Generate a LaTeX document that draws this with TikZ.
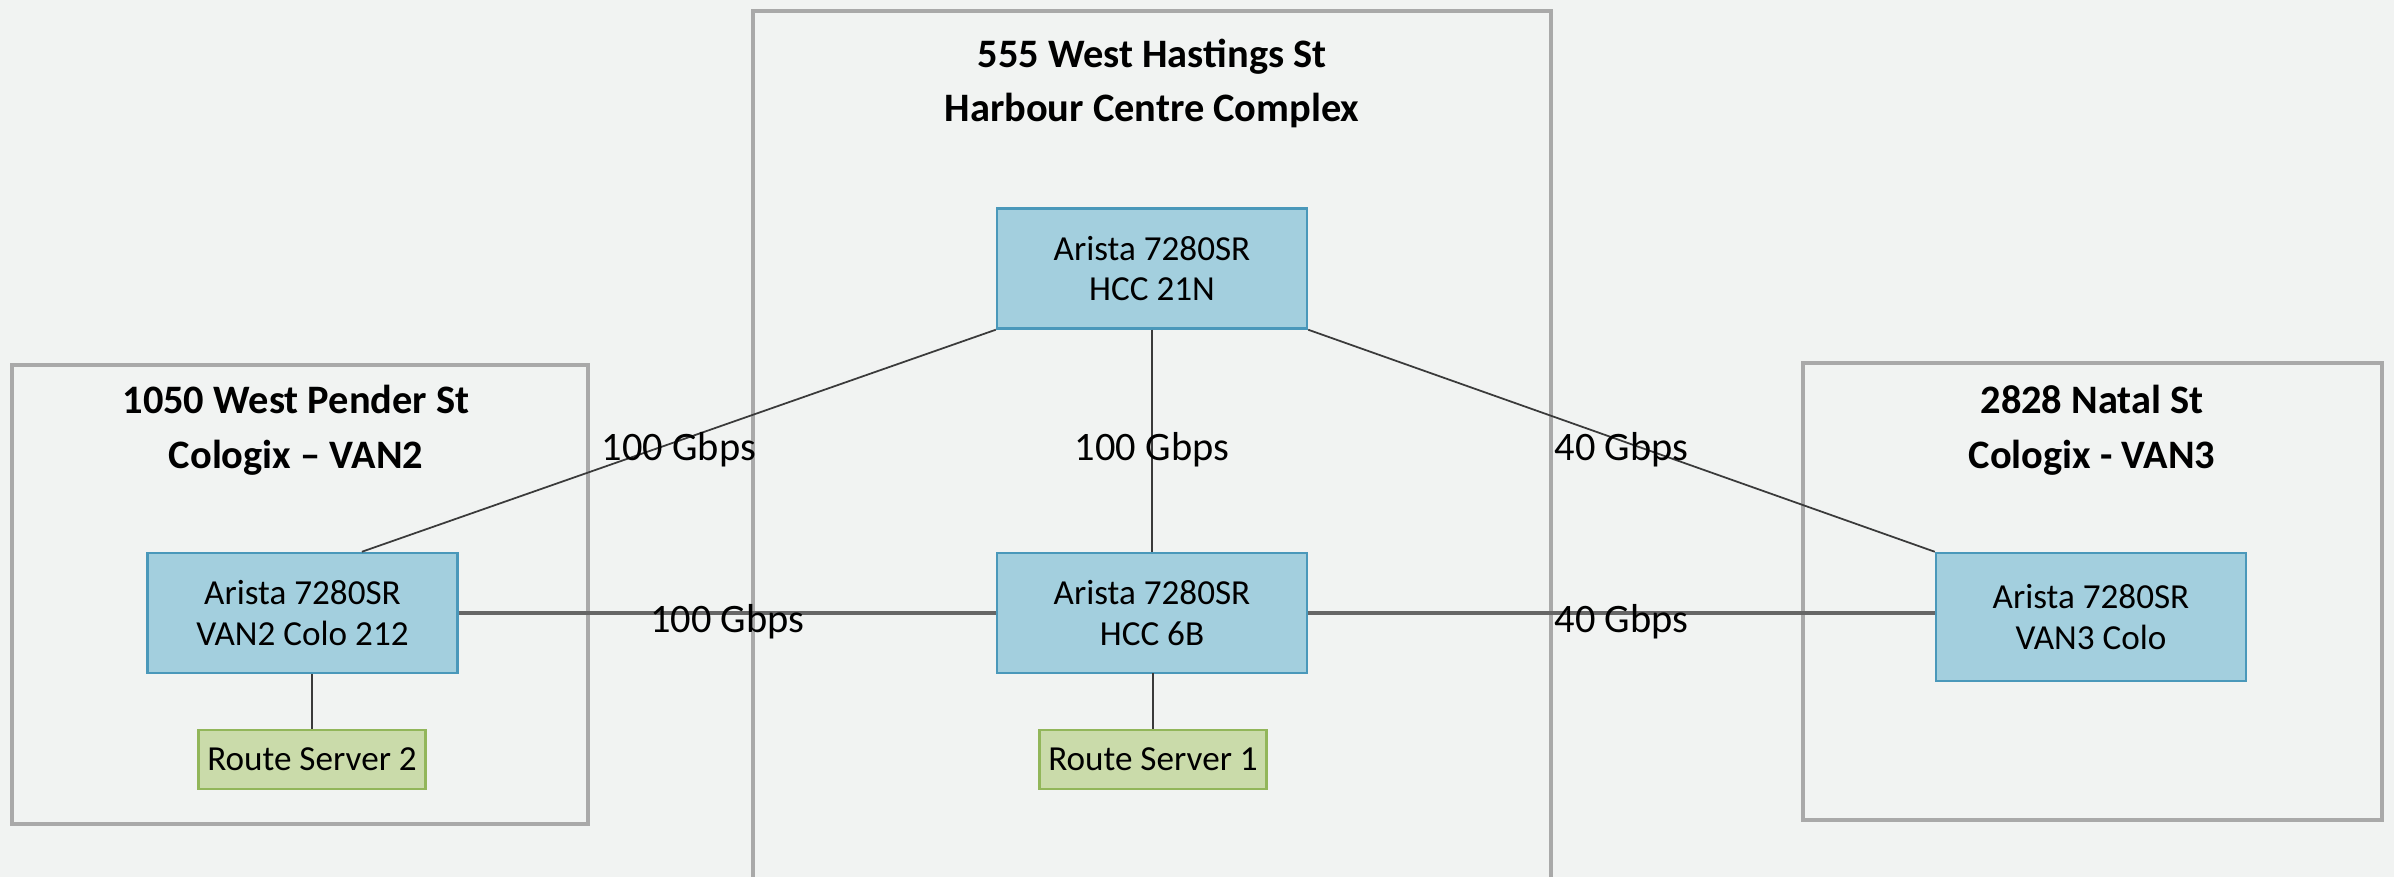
\documentclass[tikz,border=0pt]{standalone}
\usepackage{fontspec}
\setmainfont{Carlito}
\usetikzlibrary{calc}
\definecolor{bgc}{HTML}{F1F3F2}
\definecolor{bldgc}{HTML}{A9A9A9}
\definecolor{bluef}{HTML}{A3CFDE}
\definecolor{blued}{HTML}{4A98BA}
\definecolor{greenf}{HTML}{CADBAA}
\definecolor{greend}{HTML}{92B65A}
\definecolor{linec}{HTML}{3A3A3A}
\tikzset{
  bldg/.style={draw=bldgc, line width=1.4pt, fill=bgc, inner sep=0pt},
  title/.style={font=\fontsize{11.5}{15.6}\selectfont\bfseries, align=center, inner sep=0pt},
  switchbox/.style={draw=blued, line width=0.7pt, fill=bluef, inner sep=0pt,
    minimum width=31mm, minimum height=12mm, align=center,
    font=\fontsize{10}{11.6}\selectfont},
  rsbox/.style={draw=greend, line width=0.8pt, fill=greenf, inner sep=0pt,
    minimum width=22.7mm, minimum height=5.9mm, font=\fontsize{10}{11.6}\selectfont},
  link/.style={draw=linec, line width=0.5pt},
  hlink/.style={draw=gray!80!black, line width=1.1pt},
  lbl/.style={font=\fontsize{11.5}{13}\selectfont, inner sep=0pt, yshift=-0.9mm}
}
\begin{document}
\begin{tikzpicture}[x=0.1mm, y=-0.1mm]
\useasboundingbox (0,0) rectangle (2394,877);
\fill[bgc] (0,0) rectangle (2394,877);
\clip (0,0) rectangle (2394,877);
% buildings
\node[bldg, minimum width=57.6mm, minimum height=45.9mm] (b1) at (300,594.5) {};
\node[bldg, minimum width=79.8mm, minimum height=88.9mm] (b2) at (1152,455.5) {};
\node[bldg, minimum width=57.9mm, minimum height=45.7mm] (b3) at (2092.5,591.5) {};
\node[title] (t1) at (296,430.5) {1050 West Pender St\\Cologix – VAN2};
\node[title] (t2) at (1152,83.5) {555 West Hastings St\\Harbour Centre Complex};
\node[title] (t3) at (2092,430.5) {2828 Natal St\\Cologix - VAN3};
% devices
\node[switchbox] (hcc21) at (1152,268.5) {Arista 7280SR\\HCC 21N};
\node[switchbox] (hcc6b) at (1152,613) {Arista 7280SR\\HCC 6B};
\node[switchbox] (van2) at (302.5,613) {Arista 7280SR\\VAN2 Colo 212};
\node[switchbox, minimum height=12.8mm] (van3) at (2091,617) {Arista 7280SR\\VAN3 Colo};
\node[rsbox] (rs2) at (312,759.5) {Route Server 2};
\node[rsbox] (rs1) at (1153,759.5) {Route Server 1};
% links
\coordinate (v2top) at ($(van2.north west)!0.69!(van2.north east)$);
\draw[link] (v2top) -- node[lbl, midway] {100 Gbps} (hcc21.south west);
\draw[link] (hcc21.south) -- node[lbl, midway] {100 Gbps} (hcc6b.north);
\draw[link] (hcc21.south east) -- node[lbl, midway] {40 Gbps} (van3.north west);
\draw[hlink] (van2.east) -- node[lbl, midway] {100 Gbps} (hcc6b.west);
\draw[hlink] (hcc6b.east) -- node[lbl, midway] {40 Gbps} (hcc6b.east -| van3.west);
\draw[link] (van2.south -| rs2.north) -- (rs2.north);
\draw[link] (hcc6b.south) -- (hcc6b.south -| rs1.north) -- (rs1.north);
\end{tikzpicture}
\end{document}
